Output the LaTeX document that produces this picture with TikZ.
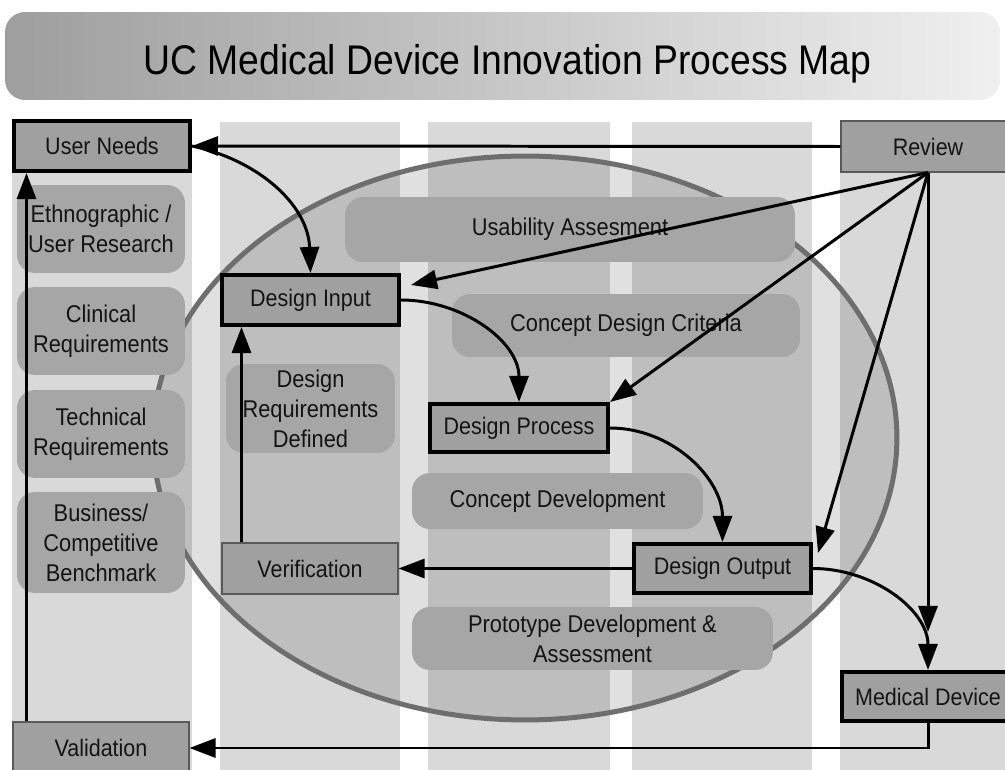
\documentclass[tikz,border=0pt]{standalone}
\usepackage{fontspec}
\setmainfont{Liberation Sans}[FakeStretch=0.9]
\usepackage{tikz}
\usetikzlibrary{arrows.meta,positioning,calc}
\definecolor{lanegray}{HTML}{D9D9D9}
\definecolor{pillgray}{HTML}{A6A6A6}
\definecolor{boxgray}{HTML}{A0A0A0}
\definecolor{ringgray}{HTML}{6E6E6E}
\definecolor{inkgray}{HTML}{141414}

\begin{document}
\begin{tikzpicture}[
    x=0.02cm, y=-0.02cm,
    lane/.style={fill=lanegray},
    banner/.style={rectangle, rounded corners=0.4cm, left color=black!38,
                 right color=black!6, minimum width=19.9cm, minimum height=1.76cm,
                 text height=26pt, text depth=4.4pt,
                 font=\fontsize{23.6}{26}\selectfont, text=black},
    pill/.style={rectangle, fill=pillgray, rounded corners=0.36cm, align=center,
                 inner sep=0pt, text=inkgray, font=\fontsize{13.8}{17}\selectfont},
    stage/.style={rectangle, draw=black, line width=2.3pt, fill=boxgray,
                 inner sep=0pt, text=inkgray, font=\fontsize{13.6}{15}\selectfont},
    check/.style={rectangle, draw=black!65, line width=0.6pt, fill=boxgray,
                 inner sep=0pt, text=inkgray, font=\fontsize{13.6}{15}\selectfont},
    arr/.style={-{Triangle[length=0.52cm, width=0.38cm]}, line width=1.7pt},
]
    \useasboundingbox (0,0) rectangle (1005,770);

    % lanes
    \fill[lane] (12,122) rectangle (192,770);
    \fill[lane] (220,122) rectangle (400,770);
    \fill[lane] (428,122) rectangle (610,770);
    \fill[lane] (632,122) rectangle (812,770);
    \fill[lane] (840,122) rectangle (1005,770);

    \node[banner] (title) at (502.5,56)
        {\hspace*{0.2cm}UC Medical Device Innovation Process Map};

    % design control loop
    \draw[ringgray, line width=0.1cm, fill=black, fill opacity=0.12]
        (525,438) ellipse [x radius=7.44cm, y radius=5.64cm];

    % activities
    \node[pill, minimum width=3.36cm, minimum height=1.76cm] (ethno) at (101,229) {Ethnographic /\\User Research};
    \node[pill, minimum width=3.36cm, minimum height=1.76cm] (clinical) at (101,331) {Clinical\\Requirements};
    \node[pill, minimum width=3.36cm, minimum height=1.76cm] (technical) at (101,434) {Technical\\Requirements};
    \node[pill, minimum width=3.36cm, minimum height=2.02cm] (business) at (101,542.5) {Business/\\Competitive\\Benchmark};
    \node[pill, minimum width=3.38cm, minimum height=1.78cm] (reqdefined) at (310.5,408.5) {Design\\Requirements\\Defined};
    \node[pill, minimum width=9.0cm, minimum height=1.3cm] (usability) at (570,229.5) {Usability Assesment};
    \node[pill, minimum width=6.96cm, minimum height=1.26cm] (criteria) at (626,325.5) {Concept Design Criteria};
    \node[pill, minimum width=5.82cm, minimum height=1.12cm] (conceptdev) at (557.5,501) {Concept Development};
    \node[pill, minimum width=7.22cm, minimum height=1.26cm] (prototype) at (592.5,638.5) {Prototype Development \&\\Assessment};

    % stages
    \node[stage, minimum width=3.52cm, minimum height=1.0cm] (userneeds) at (102,146) {User Needs};
    \node[stage, minimum width=3.54cm, minimum height=1.0cm] (designinput) at (310.5,300) {Design Input};
    \node[stage, minimum width=3.56cm, minimum height=0.96cm] (designprocess) at (519,428) {Design Process};
    \node[stage, minimum width=3.54cm, minimum height=0.98cm] (designoutput) at (722.5,568.5) {Design Output};
    \node[stage, minimum width=3.44cm, minimum height=0.98cm] (meddevice) at (928,696.5) {Medical Device};
    \node[check, minimum width=3.48cm, minimum height=1.02cm] (review) at (928,146.5) {Review};
    \node[check, minimum width=3.52cm, minimum height=1.02cm] (verification) at (310,568.5) {Verification};
    \node[check, minimum width=3.52cm, minimum height=1.04cm] (validation) at (101,748) {Validation};

    % main flow
    \draw[arr] (review.west) -- (userneeds.east);
    \draw[arr] (userneeds.east) to[out=-12, in=92] (designinput.north);
    \draw[arr] (designinput.east) to[out=0, in=90] (designprocess.north);
    \draw[arr] (designprocess.east) to[out=0, in=90] (designoutput.north);
    \draw[arr] (designoutput.east) to[out=0, in=90] (meddevice.north);

    % review feeds back into each stage
    \draw[arr] (review.south) -- ([xshift=0.2cm, yshift=-0.24cm]designinput.north east);
    \draw[arr] (review.south) -- (designprocess.north east);
    \draw[arr] (review.south) -- ([xshift=0.1cm, yshift=-0.22cm]designoutput.north east);
    \draw[arr] (review.south) -- ([yshift=0.76cm]meddevice.north);

    % verification and validation loops
    \coordinate (verup) at ([xshift=0.4cm]verification.north west);
    \coordinate (valup) at ([xshift=0.28cm]validation.north west);
    \draw[arr] (designoutput.west) -- (verification.east);
    \draw[arr] (verup) -- (verup |- designinput.south);
    \draw[arr] (meddevice.south) |- (validation.east);
    \draw[arr] (valup) -- (valup |- userneeds.south);
\end{tikzpicture}
\end{document}
